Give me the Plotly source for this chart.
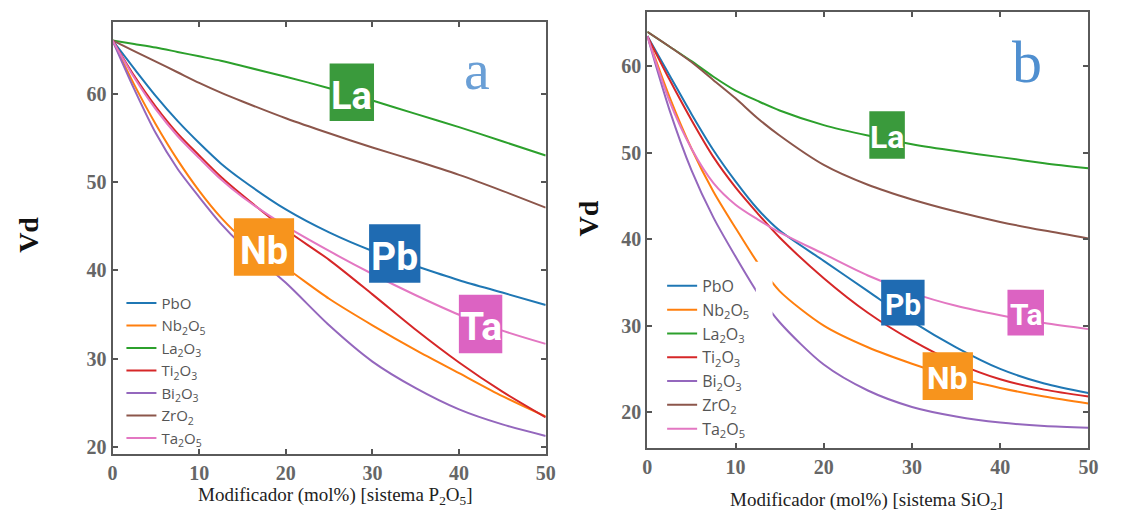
import plotly.graph_objects as go

W, H = 1126, 523

# ---------------- data ----------------
x_pts = [0, 2.5, 5, 7.5, 10, 12.5, 15, 20, 25, 30, 35, 40, 45, 50]

names = ["PbO", "Nb<sub>2</sub>O<sub>5</sub>", "La<sub>2</sub>O<sub>3</sub>",
         "Ti<sub>2</sub>O<sub>3</sub>", "Bi<sub>2</sub>O<sub>3</sub>",
         "ZrO<sub>2</sub>", "Ta<sub>2</sub>O<sub>5</sub>"]
colors = ["#1f77b4", "#ff7f0e", "#2ca02c", "#d62728", "#9467bd", "#8c564b", "#e377c2"]

# panel a: P2O5 system
a_PbO = [66, 62.8, 59.7, 56.9, 54.4, 52.1, 50.2, 46.9, 44.3, 42.2, 40.5, 38.9, 37.5, 36.1]
a_Nb2O5 = [66, 61.0, 56.5, 52.5, 49.0, 46.0, 43.6, 40.3, 36.8, 33.8, 31.0, 28.4, 25.8, 23.5]
a_La2O3 = [66, 65.6, 65.2, 64.7, 64.2, 63.7, 63.1, 61.9, 60.6, 59.2, 57.7, 56.2, 54.6, 53.0]
a_Ti2O3 = [66, 62.0, 58.5, 55.5, 53.0, 50.6, 48.5, 44.6, 41.2, 37.3, 33.3, 29.6, 26.3, 23.4]
a_Bi2O3 = [66, 60.5, 55.5, 51.5, 48.3, 45.3, 42.8, 38.6, 33.8, 29.7, 26.7, 24.3, 22.6, 21.3]
a_ZrO2 = [66, 64.8, 63.6, 62.4, 61.2, 60.1, 59.1, 57.2, 55.5, 53.9, 52.4, 50.8, 49.0, 47.1]
a_Ta2O5 = [66, 61.8, 58.2, 55.2, 52.7, 50.3, 48.3, 45.0, 42.2, 39.6, 37.2, 35.0, 33.2, 31.7]

# panel b: SiO2 system
b_PbO = [63.5, 59.0, 54.5, 50.3, 46.7, 43.5, 41.0, 37.5, 34.0, 30.5, 27.5, 25.0, 23.3, 22.2]
b_Nb2O5 = [63.5, 56.5, 50.5, 45.5, 41.3, 37.3, 34.0, 30.0, 27.5, 25.6, 24.0, 22.8, 21.8, 21.0]
b_La2O3 = [64, 62.3, 60.6, 58.8, 57.2, 56.0, 54.9, 53.2, 52.0, 51.0, 50.2, 49.5, 48.8, 48.2]
b_Ti2O3 = [63.5, 58.5, 53.8, 49.5, 46.0, 43.0, 40.2, 35.5, 31.5, 28.3, 25.7, 23.8, 22.6, 21.8]
b_Bi2O3 = [63.5, 55.0, 48.0, 42.5, 38.0, 33.8, 30.4, 25.5, 22.5, 20.6, 19.5, 18.8, 18.4, 18.2]
b_ZrO2 = [64, 62.3, 60.5, 58.4, 56.3, 54.0, 52.0, 48.6, 46.3, 44.6, 43.2, 42.0, 41.0, 40.1]
b_Ta2O5 = [63.5, 56.0, 50.5, 46.5, 44.0, 42.3, 40.8, 38.3, 35.8, 33.8, 32.3, 31.2, 30.3, 29.6]

x_ticks = [0, 10, 20, 30, 40, 50]
y_ticks = [20, 30, 40, 50, 60]

series_a = [a_PbO, a_Nb2O5, a_La2O3, a_Ti2O3, a_Bi2O3, a_ZrO2, a_Ta2O5]
series_b = [b_PbO, b_Nb2O5, b_La2O3, b_Ti2O3, b_Bi2O3, b_ZrO2, b_Ta2O5]

# ---------------- figure ----------------
fig = go.Figure()
for nm, c, ys in zip(names, colors, series_a):
    fig.add_trace(go.Scatter(x=x_pts, y=ys, name=nm, mode="lines",
                             line=dict(color=c, width=2, shape="spline", smoothing=0.8),
                             xaxis="x", yaxis="y", legend="legend"))
for nm, c, ys in zip(names, colors, series_b):
    fig.add_trace(go.Scatter(x=x_pts, y=ys, name=nm, mode="lines",
                             line=dict(color=c, width=2, shape="spline", smoothing=0.8),
                             xaxis="x2", yaxis="y2", legend="legend2"))


def px(v):
    return v / W


def py(v):
    return 1 - v / H


tickfont = dict(family="Liberation Serif", size=20, color="#666", weight="bold")
axis_common = dict(showgrid=False, zeroline=False, showline=True, linecolor="#5a5a5a",
                   linewidth=2, mirror="ticks", ticks="inside", ticklen=5,
                   tickcolor="#555", tickwidth=1.5, tickfont=tickfont)

legend_font = dict(family="Open Sans", size=15, color="#555")
legend_font2 = dict(family="Open Sans", size=16, color="#555")

fig.update_layout(
    width=W, height=H, margin=dict(l=0, r=0, t=0, b=0),
    paper_bgcolor="white", plot_bgcolor="white",
    xaxis=dict(domain=[px(109), px(548)], range=[0, 50], tickvals=x_ticks,
               anchor="y", **axis_common),
    yaxis=dict(domain=[py(458), py(22)], range=[19.2, 68.1], tickvals=y_ticks,
               anchor="x", **axis_common),
    xaxis2=dict(domain=[px(651), px(1098)], range=[0, 50], tickvals=x_ticks,
                anchor="y2", **axis_common),
    yaxis2=dict(domain=[py(451), py(12)], range=[15.9, 66.3], tickvals=y_ticks,
                anchor="x2", **axis_common),
    legend=dict(x=px(118), y=py(289), xanchor="left", yanchor="top",
                bgcolor="rgba(0,0,0,0)", font=legend_font, itemwidth=30,
                tracegroupgap=0),
    legend2=dict(x=px(666), y=py(271), xanchor="left", yanchor="top",
                 bgcolor="rgba(0,0,0,0)", font=legend_font2, itemwidth=30,
                 tracegroupgap=0),
    showlegend=True,
)

# white-out region in panel b (gap in Nb2O5 / Bi2O3 curves)
fig.add_shape(type="rect", xref="x2", yref="y2", x0=12.3, x1=14.2, y0=29.5, y1=37.4,
              fillcolor="white", line=dict(width=0), layer="above")

ann = []
# axis titles
ann.append(dict(text="Modificador (mol%) [sistema P<sub>2</sub>O<sub>5</sub>]",
                x=px(335), y=py(500), xref="paper", yref="paper", showarrow=False,
                xanchor="center", yanchor="middle",
                font=dict(family="Liberation Serif", size=19, color="#222")))
ann.append(dict(text="Modificador (mol%) [sistema SiO<sub>2</sub>]",
                x=px(873), y=py(505), xref="paper", yref="paper", showarrow=False,
                xanchor="center", yanchor="middle",
                font=dict(family="Liberation Serif", size=19, color="#222")))
ann.append(dict(text="Vd", x=px(24), y=py(237), xref="paper", yref="paper",
                showarrow=False, textangle=-90, xanchor="center", yanchor="middle",
                font=dict(family="Liberation Serif", size=28, color="#111", weight="bold")))
ann.append(dict(text="Vd", x=px(591), y=py(220), xref="paper", yref="paper",
                showarrow=False, textangle=-90, xanchor="center", yanchor="middle",
                font=dict(family="Liberation Serif", size=28, color="#111", weight="bold")))
# panel letters
ann.append(dict(text="a", x=px(478), y=py(70), xref="paper", yref="paper",
                showarrow=False, xanchor="center", yanchor="middle",
                font=dict(family="Liberation Serif", size=58, color="#6a9fd6")))
ann.append(dict(text="b", x=px(1036), y=py(62), xref="paper", yref="paper",
                showarrow=False, xanchor="center", yanchor="middle",
                font=dict(family="Liberation Serif", size=60, color="#4f8fd0")))

# element label boxes: (text, color, x0, x1, y0, y1 in pixels)
boxes = [
    ("La", "#3a9a3c", 329, 374, 64, 122),
    ("Nb", "#f7941d", 232, 293, 220, 278),
    ("Pb", "#1f6bb2", 369, 421, 226, 285),
    ("Ta", "#dc63c2", 460, 504, 297, 356),
    ("La", "#3a9a3c", 876, 912, 112, 160),
    ("Pb", "#1f6bb2", 888, 932, 282, 328),
    ("Ta", "#dc63c2", 1016, 1053, 292, 338),
    ("Nb", "#f7941d", 930, 981, 355, 403),
]
for t, c, x0, x1, y0, y1 in boxes:
    fig.add_shape(type="rect", xref="paper", yref="paper",
                  x0=px(x0), x1=px(x1), y0=py(y1), y1=py(y0),
                  fillcolor=c, line=dict(width=0), layer="above")
    h = y1 - y0
    fs = round(h * 0.66)
    ann.append(dict(text=t, x=px((x0 + x1) / 2), y=py(y1 - h * 0.18),
                    xref="paper", yref="paper",
                    xanchor="center", yanchor="bottom", showarrow=False, yshift=-0.24 * fs,
                    font=dict(family="Roboto", size=fs, color="white", weight="bold")))

fig.update_layout(annotations=ann)
fig.write_html("out.html")
